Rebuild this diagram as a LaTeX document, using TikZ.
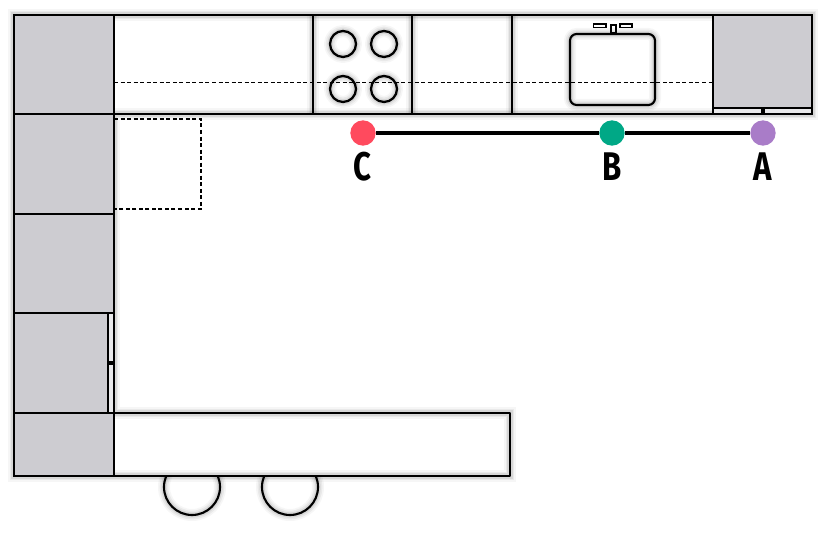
\documentclass[tikz,border=0pt]{standalone}
\usepackage{fontspec}
\newfontfamily\labelfont[FakeStretch=0.78]{Fira Sans Bold}
\usetikzlibrary{shapes,arrows}
\definecolor{cabgray}{RGB}{205,204,209}
\definecolor{dotA}{RGB}{169,124,200}
\definecolor{dotB}{RGB}{0,168,134}
\definecolor{dotC}{RGB}{255,74,94}
\tikzstyle{soft} = [line join=round,
    preaction={draw=black, draw opacity=.035, line width=9pt},
    preaction={draw=black, draw opacity=.05, line width=6.5pt},
    preaction={draw=black, draw opacity=.08, line width=4pt}]
\tikzstyle{wall} = [draw, line width=2.1pt, soft]
\tikzstyle{cabinet} = [draw, line width=2.1pt, fill=cabgray]
\tikzstyle{strip} = [draw, line width=1.3pt, fill=cabgray!45]
\tikzstyle{burner} = [circle, draw, line width=1.7pt, soft, inner sep=0pt, minimum size=19.5pt]
\tikzstyle{stool} = [circle, draw, line width=1.6pt, soft, inner sep=0pt, minimum size=42pt]
\tikzstyle{hidden} = [draw, line width=.95pt, dash pattern=on 3pt off 1.9pt]
\tikzstyle{point} = [circle, inner sep=0pt, minimum size=19pt]
\tikzstyle{tag} = [font=\labelfont\fontsize{30}{30}\selectfont, inner sep=0pt, node distance=25.5pt]
\tikzstyle{line} = [draw, line width=2.6pt]

\begin{document}
\begin{tikzpicture}[x=.75pt, y=-.75pt]
    \useasboundingbox (0,0) rectangle (828,534);
    % Stools under the counter
    \begin{scope}
        \clip (100,476) rectangle (400,534);
        \node [stool] (stool1) at (192,487) {};
        \node [stool] (stool2) at (290,487) {};
    \end{scope}

    % Counters
    \path [wall] (14,15) -- (812,15) -- (812,114) -- (114,114) -- (114,413) -- (510,413) -- (510,476) -- (14,476) -- cycle;
    \path [wall] (313,15) -- (313,114);
    \path [wall] (412,15) -- (412,114);
    \path [wall] (512,15) -- (512,114);
    \path [hidden, line width=.8pt] (114,82.5) -- (713,82.5);
    \path [hidden] (114,119) -| (201,209) -- (114,209);

    % Cabinets
    \path [strip] (108,313) rectangle (114,413);
    \path [strip] (713,108) rectangle (812,114);
    \path [cabinet] (14,15) rectangle (114,114);
    \path [cabinet] (14,114) rectangle (114,214);
    \path [cabinet] (14,214) rectangle (114,313);
    \path [cabinet] (14,413) rectangle (114,476);
    \path [cabinet] (713,15) rectangle (812,108);
    \path [cabinet, line width=1.3pt] (14,313) rectangle (108,413);
    \path [draw, line width=2.1pt] (14,313) -- (114,313) (14,413) -- (114,413) (14,313) -- (14,413) (114,313) -- (114,413);
    \path [draw, line width=2.1pt] (713,15) -- (713,114) -- (812,114) -- (812,15) -- cycle;

    % Handles
    \draw [line width=3pt] (108,363) -- (114,363);
    \draw [line width=3pt] (763,108) -- (763,114);

    % Burners
    \node [burner] (burner1) at (343,44) {};
    \node [burner] (burner2) at (384,44) {};
    \node [burner] (burner3) at (343,89) {};
    \node [burner] (burner4) at (384,89) {};

    % Sink
    \path [draw, line width=1.6pt, soft, rounded corners=5pt] (570,34) rectangle (655,105);
    \path [draw, line width=1.3pt] (593.5,24) rectangle (606,27.5);
    \path [draw, line width=1.3pt] (620,24) rectangle (632,27.5);
    \path [draw, line width=1.3pt] (611,25) rectangle (616,33);

    % Place points
    \node [point, fill=dotA] (a) at (763,133) {};
    \node [point, fill=dotB] (b) at (612,133) {};
    \node [point, fill=dotC] (c) at (363,133) {};
    \node [tag, below of=a] (taga) {A};
    \node [tag, below of=b] (tagb) {B};
    \node [tag, below of=c, xshift=-.75pt] (tagc) {C};

    % Draw edges
    \path [line] (a) -- (b);
    \path [line] (b) -- (c);
\end{tikzpicture}
\end{document}
